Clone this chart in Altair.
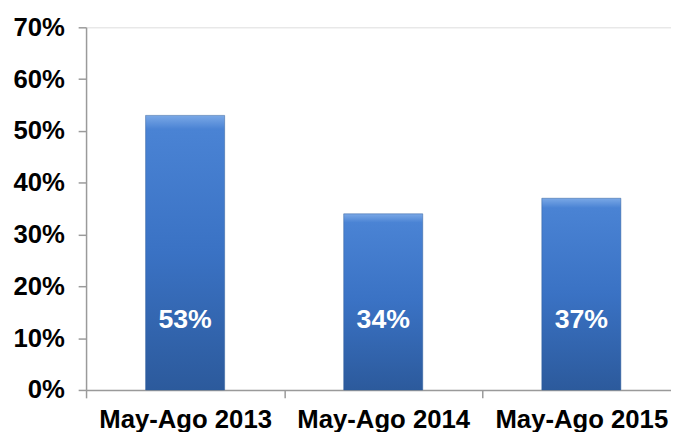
import altair as alt
import pandas as pd

categories = ["May-Ago 2013", "May-Ago 2014", "May-Ago 2015"]
values = [0.53, 0.34, 0.37]
labels = ["53%", "34%", "37%"]

df = pd.DataFrame({"cat": categories, "val": values, "lab": labels})

FONT = "Liberation Sans"

x = alt.X(
    "cat:N",
    sort=categories,
    scale=alt.Scale(range=[0, 601.5], paddingInner=0, paddingOuter=0),
    axis=alt.Axis(
        title=None,
        labelAngle=0,
        labelFont=FONT,
        labelFontSize=26,
        labelFontWeight="bold",
        labelColor="#000000",
        labelPadding=9,
        tickBand="extent",
        tickSize=8,
        tickColor="#9a9a9a",
        tickWidth=1.5,
        domainColor="#9a9a9a",
        domainWidth=1.5,
        grid=False,
    ),
)

bars = alt.Chart(df).mark_bar(
    width=80,
    color=alt.Gradient(
        gradient="linear",
        stops=[
            alt.GradientStop(offset=0, color="#7aa8e6"),
            alt.GradientStop(offset=0.05, color="#4a83d4"),
            alt.GradientStop(offset=0.5, color="#3a72c4"),
            alt.GradientStop(offset=1, color="#2c5a9c"),
        ],
        x1=0, x2=0, y1=0, y2=1,
    ),
    stroke="#2f5d9c",
    strokeWidth=0.5,
).encode(
    x=x,
    y=alt.Y(
        "val:Q",
        scale=alt.Scale(domain=[0, 0.7], nice=False),
        axis=alt.Axis(
            title=None,
            format=".0%",
            values=[0, 0.1, 0.2, 0.3, 0.4, 0.5, 0.6, 0.7],
            labelFont=FONT,
            labelFontSize=26,
            labelFontWeight="bold",
            labelColor="#000000",
            labelPadding=14,
            tickSize=8,
            tickColor="#9a9a9a",
            tickWidth=1.5,
            domainColor="#9a9a9a",
            domainWidth=1.5,
            grid=False,
        ),
    ),
)

text = alt.Chart(df).mark_text(
    font=FONT, fontSize=27, fontWeight="bold", color="white", baseline="middle"
).encode(
    x=alt.X("cat:N", sort=categories),
    y=alt.YDatum(0.135),
    text="lab:N",
)

chart = (
    alt.layer(bars, text)
    .properties(
        width=592,
        height=367,
        autosize=alt.AutoSizeParams(type="none"),
        padding={"left": 79, "top": 17, "right": 0, "bottom": 40},
    )
    .configure_view(stroke=None)
    .configure(background="white")
)

chart.save("out.html", embed_options={"renderer": "svg", "actions": False})
